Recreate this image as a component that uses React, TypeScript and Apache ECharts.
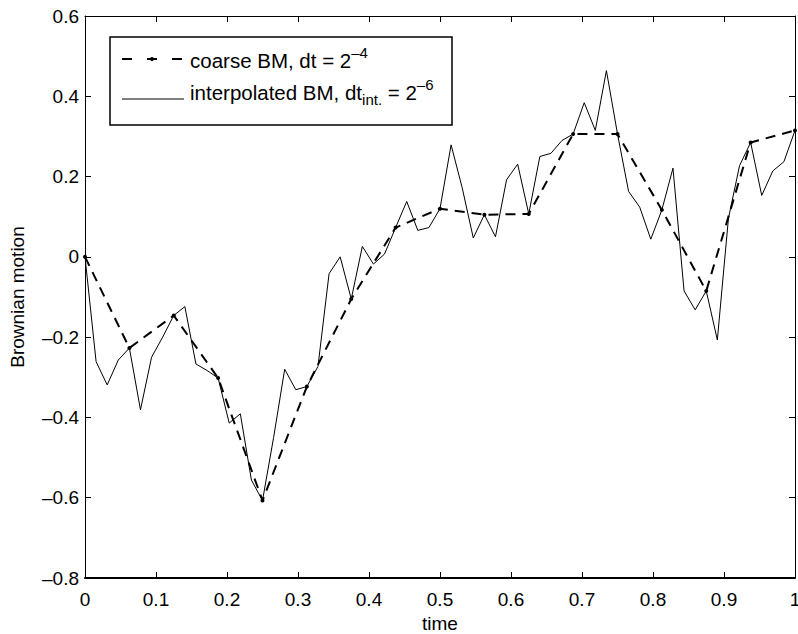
import React, { useEffect, useRef } from "react";
import * as echarts from "echarts";

// Coarse Brownian path, dt = 2^-4 (17 samples on [0,1])
const coarseValues = [
  0, -0.227, -0.146, -0.302, -0.607, -0.323, -0.105, 0.073, 0.12, 0.105, 0.107,
  0.306, 0.306, 0.117, -0.085, 0.285, 0.315,
];

// Interpolated Brownian path, dt = 2^-6 (65 samples on [0,1])
const fineValues = [
  0, -0.261, -0.319, -0.257, -0.227, -0.381, -0.25, -0.2, -0.146, -0.124, -0.267,
  -0.283, -0.302, -0.414, -0.391, -0.556, -0.607, -0.45, -0.28, -0.331, -0.323,
  -0.273, -0.042, 0, -0.105, 0.026, -0.018, 0.007, 0.073, 0.138, 0.066, 0.073,
  0.12, 0.279, 0.172, 0.047, 0.105, 0.05, 0.192, 0.231, 0.107, 0.25, 0.258, 0.29,
  0.306, 0.384, 0.315, 0.464, 0.306, 0.163, 0.124, 0.044, 0.117, 0.221, -0.085,
  -0.132, -0.085, -0.207, 0.096, 0.227, 0.285, 0.153, 0.214, 0.237, 0.315,
];

const coarseSteps = 16;
const fineSteps = 64;

const xTicks = [0, 0.1, 0.2, 0.3, 0.4, 0.5, 0.6, 0.7, 0.8, 0.9, 1];
const yTicks = [-0.8, -0.6, -0.4, -0.2, 0, 0.2, 0.4, 0.6];

const FONT = "'Liberation Sans', Arial, Helvetica, sans-serif";

const fmt = (v: number) => {
  const r = Math.round(Math.abs(v) * 10) / 10;
  return (v < -1e-9 ? "\u2013" : "") + String(r);
};

export default function App() {
  const ref = useRef<HTMLDivElement>(null);

  useEffect(() => {
    if (!ref.current) return;
    const chart = echarts.init(ref.current, null, { renderer: "svg" });

    const coarseData = coarseValues.map((v, i) => [i / coarseSteps, v]);
    const fineData = fineValues.map((v, i) => [i / fineSteps, v]);

    const axisCommon = {
      type: "value" as const,
      splitLine: { show: false },
      axisTick: { show: true, inside: true, length: 6, lineStyle: { color: "#000", width: 1 } },
    };

    const textN = { fontSize: 20.5, fontFamily: FONT, fill: "#000" };
    const textSup = { fontSize: 15, fontFamily: FONT, fill: "#000", padding: [0, 0, 16, 0] };
    const textSub = { fontSize: 15, fontFamily: FONT, fill: "#000", padding: [14, 0, 0, 0] };

    chart.setOption({
      animation: false,
      backgroundColor: "#fff",
      grid: { left: 85, right: 3, top: 16, bottom: 56, containLabel: false, outerBoundsMode: "none" },
      xAxis: [
        {
          ...axisCommon,
          position: "bottom",
          min: xTicks[0],
          max: xTicks[xTicks.length - 1],
          interval: 0.1,
          axisLine: { show: true, onZero: false, lineStyle: { color: "#000", width: 2 } },
          axisLabel: {
            show: true,
            margin: 12,
            fontSize: 19,
            fontFamily: FONT,
            color: "#000",
            formatter: fmt,
          },
          name: "time",
          nameLocation: "middle",
          nameGap: 35,
          nameTextStyle: { fontSize: 19, fontFamily: FONT, color: "#000" },
        },
        {
          ...axisCommon,
          position: "top",
          min: xTicks[0],
          max: xTicks[xTicks.length - 1],
          interval: 0.1,
          axisLine: { show: true, onZero: false, lineStyle: { color: "#000", width: 1 } },
          axisLabel: { show: false },
        },
      ],
      yAxis: [
        {
          ...axisCommon,
          position: "left",
          min: yTicks[0],
          max: yTicks[yTicks.length - 1],
          interval: 0.2,
          axisLine: { show: true, onZero: false, lineStyle: { color: "#000", width: 1 } },
          axisLabel: {
            show: true,
            margin: 6,
            fontSize: 19,
            fontFamily: FONT,
            color: "#000",
            formatter: fmt,
          },
          name: "Brownian motion",
          nameLocation: "middle",
          nameGap: 58,
          nameRotate: 90,
          nameTextStyle: { fontSize: 19, fontFamily: FONT, color: "#000" },
        },
        {
          ...axisCommon,
          position: "right",
          min: yTicks[0],
          max: yTicks[yTicks.length - 1],
          interval: 0.2,
          axisLine: { show: true, onZero: false, lineStyle: { color: "#000", width: 1 } },
          axisLabel: { show: false },
        },
      ],
      series: [
        {
          name: "interpolated",
          type: "line",
          data: fineData,
          showSymbol: false,
          symbol: "none",
          lineStyle: { color: "#000", width: 1 },
          z: 2,
        },
        {
          name: "coarse",
          type: "line",
          data: coarseData,
          symbol: "circle",
          symbolSize: 4,
          itemStyle: { color: "#000" },
          lineStyle: { color: "#000", width: 2, type: [10, 7] },
          z: 3,
        },
      ],
      graphic: [
        {
          type: "group",
          z: 100,
          children: [
            {
              type: "rect",
              shape: { x: 110, y: 37, width: 342, height: 88 },
              style: { fill: "#fff", stroke: "#000", lineWidth: 1.5 },
            },
            {
              type: "line",
              shape: { x1: 122, y1: 59, x2: 182, y2: 59 },
              style: { stroke: "#000", lineWidth: 2, lineDash: [10, 15] },
            },
            {
              type: "circle",
              shape: { cx: 152, cy: 59, r: 2 },
              style: { fill: "#000" },
            },
            {
              type: "line",
              shape: { x1: 122, y1: 99, x2: 184, y2: 99 },
              style: { stroke: "#000", lineWidth: 1 },
            },
            {
              type: "text",
              x: 190,
              y: 60,
              style: {
                text: "{n|coarse BM, dt = 2}{sup|\u20134}",
                verticalAlign: "middle",
                align: "left",
                rich: { n: textN, sup: textSup },
              },
            },
            {
              type: "text",
              x: 190,
              y: 92,
              style: {
                text: "{n|interpolated BM, dt}{sub|int.}{n| = 2}{sup|\u20136}",
                verticalAlign: "middle",
                align: "left",
                rich: { n: textN, sup: textSup, sub: textSub },
              },
            },
          ],
        },
      ],
    });

    return () => chart.dispose();
  }, []);

  return (
    <div
      ref={ref}
      style={{ position: "absolute", left: 0, top: 0, width: 798, height: 634, background: "#fff" }}
    />
  );
}
